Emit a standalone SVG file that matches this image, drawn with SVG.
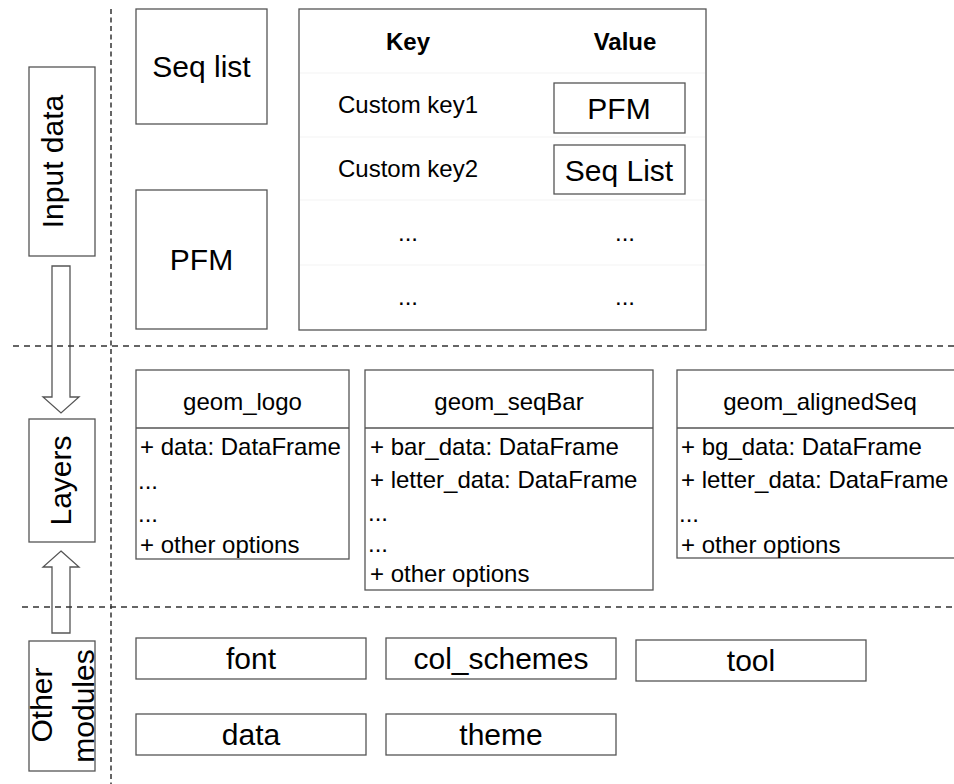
<svg xmlns="http://www.w3.org/2000/svg" width="954" height="784" viewBox="0 0 954 784">
<style>
  .box{fill:#ffffff;stroke:#555555;stroke-width:1.3}
  .t30{font-family:"Liberation Sans",Arial,sans-serif;font-size:30px;fill:#000}
  .t24{font-family:"Liberation Sans",Arial,sans-serif;font-size:24px;fill:#000}
  .b24{font-family:"Liberation Sans",Arial,sans-serif;font-size:24px;font-weight:bold;fill:#000}
  .mid{text-anchor:middle}
  .row{stroke:#f3f3f3;stroke-width:1}
  .sep{stroke:#555555;stroke-width:1.3}
  .dashh{stroke:#333333;stroke-width:1.5;stroke-dasharray:6 5;fill:none}
  .dashv{stroke:#333333;stroke-width:1.5;stroke-dasharray:5 3.5;fill:none}
  .arrow{fill:#ffffff;stroke:#555555;stroke-width:1.3}
</style>
<rect x="0" y="0" width="954" height="784" fill="#ffffff"/>

<g id="connectors">
  <polygon class="arrow" points="52,266 70,266 70,397 79,397 61,413 43,397 52,397"/>
  <polygon class="arrow" points="61,551 79,567 70,567 70,633 52,633 52,567 43,567"/>
</g>

<g id="separators">
  <line class="dashv" x1="111" y1="9" x2="111" y2="784"/>
  <line class="dashh" x1="13" y1="346" x2="954" y2="346"/>
  <line class="dashh" x1="22" y1="607" x2="954" y2="607"/>
</g>

<g id="label-input-data">
  <rect class="box" x="29" y="67" width="66" height="189"/>
  <text class="t30 mid" transform="translate(63,161.5) rotate(-90)" x="0" y="0">Input data</text>
</g>
<g id="label-layers">
  <rect class="box" x="29" y="419" width="66" height="123"/>
  <text class="t30 mid" transform="translate(71,480.5) rotate(-90)" x="0" y="0">Layers</text>
</g>
<g id="label-other-modules">
  <rect class="box" x="29" y="641" width="66" height="130"/>
  <text class="t30 mid" transform="translate(52,705) rotate(-90)" x="0" y="0">Other</text>
  <text class="t30 mid" transform="translate(93.5,706) rotate(-90)" x="0" y="0">modules</text>
</g>

<g id="seq-list">
  <rect class="box" x="136" y="9" width="131" height="115"/>
  <text class="t30 mid" x="201.5" y="77">Seq list</text>
</g>
<g id="pfm">
  <rect class="box" x="136" y="190" width="131" height="139"/>
  <text class="t30 mid" x="201.5" y="270">PFM</text>
</g>

<g id="key-value-table">
  <rect class="box" x="299" y="9" width="407" height="321" fill="#fdfdfd"/>
  <line class="row" x1="300" y1="73" x2="705" y2="73"/>
  <line class="row" x1="300" y1="137" x2="705" y2="137"/>
  <line class="row" x1="300" y1="200" x2="705" y2="200"/>
  <line class="row" x1="300" y1="265" x2="705" y2="265"/>
  <text class="b24 mid" x="408" y="50">Key</text>
  <text class="b24 mid" x="625" y="50">Value</text>
  <text class="t24 mid" x="408" y="113">Custom key1</text>
  <text class="t24 mid" x="408" y="177">Custom key2</text>
  <text class="t24 mid" x="408" y="241">...</text>
  <text class="t24 mid" x="625" y="241">...</text>
  <text class="t24 mid" x="408" y="305">...</text>
  <text class="t24 mid" x="625" y="305">...</text>
  <g id="value-pfm">
    <rect class="box" x="554" y="83" width="131" height="50"/>
    <text class="t30 mid" x="619" y="119">PFM</text>
  </g>
  <g id="value-seq-list">
    <rect class="box" x="554" y="145" width="131" height="49"/>
    <text class="t30 mid" x="619" y="181">Seq List</text>
  </g>
</g>

<g id="geom-logo">
  <rect class="box" x="136" y="370" width="213" height="189"/>
  <line class="sep" x1="136" y1="428" x2="349" y2="428"/>
  <text class="t24 mid" x="242.5" y="410">geom_logo</text>
  <text class="t24" x="140" y="455">+ data: DataFrame</text>
  <text class="t24" x="138" y="489">...</text>
  <text class="t24" x="138" y="522">...</text>
  <text class="t24" x="140" y="553">+ other options</text>
</g>

<g id="geom-seqbar">
  <rect class="box" x="365" y="370" width="288" height="220"/>
  <line class="sep" x1="365" y1="428" x2="653" y2="428"/>
  <text class="t24 mid" x="509" y="410">geom_seqBar</text>
  <text class="t24" x="370" y="455">+ bar_data: DataFrame</text>
  <text class="t24" x="370" y="488">+ letter_data: DataFrame</text>
  <text class="t24" x="368" y="521">...</text>
  <text class="t24" x="368" y="552">...</text>
  <text class="t24" x="370" y="582">+ other options</text>
</g>

<g id="geom-alignedseq">
  <rect class="box" x="677" y="370" width="290" height="188"/>
  <line class="sep" x1="677" y1="428" x2="954" y2="428"/>
  <text class="t24 mid" x="820" y="410">geom_alignedSeq</text>
  <text class="t24" x="681" y="455">+ bg_data: DataFrame</text>
  <text class="t24" x="681" y="488">+ letter_data: DataFrame</text>
  <text class="t24" x="679" y="522">...</text>
  <text class="t24" x="681" y="553">+ other options</text>
</g>

<g id="mod-font">
  <rect class="box" x="136" y="638" width="230" height="41"/>
  <text class="t30 mid" x="251" y="669">font</text>
</g>
<g id="mod-col-schemes">
  <rect class="box" x="386" y="638" width="230" height="41"/>
  <text class="t30 mid" x="501" y="669">col_schemes</text>
</g>
<g id="mod-tool">
  <rect class="box" x="636" y="640" width="230" height="41"/>
  <text class="t30 mid" x="751" y="671">tool</text>
</g>
<g id="mod-data">
  <rect class="box" x="136" y="714" width="230" height="41"/>
  <text class="t30 mid" x="251" y="745">data</text>
</g>
<g id="mod-theme">
  <rect class="box" x="386" y="714" width="230" height="41"/>
  <text class="t30 mid" x="501" y="745">theme</text>
</g>
</svg>
